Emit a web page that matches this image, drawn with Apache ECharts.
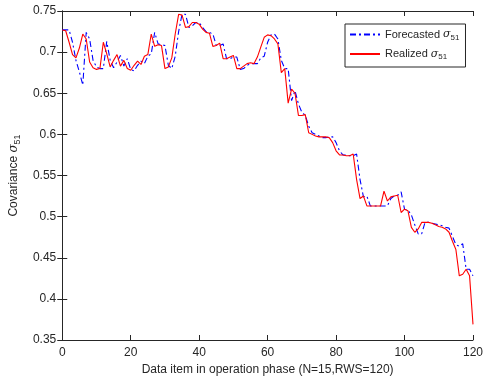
<!DOCTYPE html>
<html><head><meta charset="utf-8">
<script src="https://cdn.jsdelivr.net/npm/echarts@6/dist/echarts.min.js"></script>
<style>html,body{margin:0;padding:0;background:#fff}#c{width:486px;height:388px}</style>
</head><body><div id="c"></div>
<script>
const items = Array.from({length:121},(_,i)=>i);
const realized = [0.727,0.726,0.712,0.697,0.693,0.705,0.722,0.716,0.688,0.681,0.679,0.68,0.712,0.698,0.682,0.69,0.697,0.683,0.69,0.68,
0.678,0.684,0.689,0.685,0.695,0.697,0.722,0.707,0.709,0.708,0.68,0.682,0.693,0.722,0.746,0.745,0.73,0.731,0.736,0.736,
0.734,0.728,0.724,0.723,0.707,0.708,0.711,0.692,0.692,0.694,0.696,0.68,0.68,0.683,0.686,0.687,0.686,0.694,0.706,0.718,
0.721,0.72,0.716,0.71,0.675,0.68,0.638,0.655,0.65,0.623,0.623,0.624,0.602,0.6,0.598,0.597,0.597,0.597,0.596,0.59,
0.58,0.575,0.575,0.574,0.574,0.576,0.545,0.522,0.525,0.513,0.513,0.513,0.513,0.513,0.531,0.519,0.524,0.525,0.526,0.505,
0.509,0.507,0.487,0.481,0.485,0.493,0.493,0.493,0.492,0.49,0.488,0.487,0.485,0.481,0.47,0.46,0.428,0.43,0.436,0.428,0.369];
const forecasted = [0.727,0.727,0.727,0.712,0.69,0.676,0.66,0.724,0.716,0.69,0.682,0.68,0.68,0.713,0.69,0.681,0.688,0.696,0.683,0.692,
0.679,0.677,0.684,0.689,0.686,0.695,0.698,0.724,0.71,0.709,0.708,0.684,0.68,0.695,0.725,0.746,0.746,0.73,0.732,0.736,
0.736,0.73,0.725,0.724,0.722,0.708,0.708,0.71,0.692,0.692,0.694,0.694,0.679,0.68,0.684,0.686,0.686,0.686,0.693,0.695,
0.712,0.721,0.722,0.716,0.69,0.68,0.68,0.641,0.653,0.637,0.627,0.623,0.61,0.602,0.6,0.598,0.596,0.596,0.597,0.597,
0.59,0.58,0.575,0.575,0.574,0.574,0.576,0.545,0.524,0.525,0.513,0.513,0.513,0.513,0.513,0.513,0.522,0.525,0.526,0.53,
0.509,0.508,0.502,0.49,0.479,0.479,0.493,0.493,0.492,0.491,0.49,0.489,0.487,0.486,0.476,0.466,0.464,0.467,0.436,0.436,0.428];
const xTitle = 'Data item in operation phase (N=15,RWS=120)';
const yTitle = 'Covariance ';
const seriesNames = ['Forecasted', 'Realized'];

const axisColor = '#262626';
const font = 'Liberation Sans, Arial, Helvetica, sans-serif';
const chart = echarts.init(document.getElementById('c'), null, {renderer:'canvas'});
const subRich = {
  sig: {fontFamily:'DejaVu Serif, serif', fontStyle:'italic', fontSize:11, color:axisColor},
  sub: {fontFamily:font, fontSize:8, color:axisColor, verticalAlign:'bottom', padding:[6,0,0,0]}
};
chart.setOption({
  animation:false,
  backgroundColor:'#fff',
  grid:{left:61,right:9,top:11,bottom:48,containLabel:false},
  legend:{
    left:345, top:24, orient:'vertical', itemWidth:30, itemHeight:10, itemGap:7,
    padding:[5,6,6,4], borderColor:axisColor, borderWidth:1, backgroundColor:'#fff',
    data:seriesNames.map(n=>({name:n})),
    itemStyle:{opacity:0},
    formatter: n => n + ' {sig|σ}{sub|51}',
    textStyle:{fontFamily:font, fontSize:11, color:axisColor, rich:subRich}
  },
  xAxis:[{
    type:'value', min:0, max:120, interval:20, position:'bottom',
    name:xTitle, nameLocation:'middle', nameGap:20,
    nameTextStyle:{fontFamily:font, fontSize:12, color:axisColor},
    axisLine:{show:true, lineStyle:{color:axisColor, width:1}},
    axisTick:{show:true, inside:true, length:5, lineStyle:{color:axisColor}},
    axisLabel:{fontFamily:font, fontSize:12, color:axisColor, margin:7},
    splitLine:{show:false}
  },{
    type:'value', min:0, max:120, interval:20, position:'top',
    axisLine:{show:true, lineStyle:{color:axisColor, width:1}},
    axisTick:{show:true, inside:true, length:5, lineStyle:{color:axisColor}},
    axisLabel:{show:false}, splitLine:{show:false}
  }],
  yAxis:[{
    type:'value', min:0.35, max:0.75, interval:0.05, position:'left',
    name: yTitle + '{sig|σ}{sub|51}', nameLocation:'middle', nameGap:40, nameRotate:90,
    nameTextStyle:{fontFamily:font, fontSize:12, color:axisColor,
      rich:{sig:{fontFamily:'DejaVu Serif, serif', fontStyle:'italic', fontSize:12, color:axisColor},
            sub:{fontFamily:font, fontSize:9, color:axisColor, verticalAlign:'bottom', padding:[7,0,0,0]}}},
    axisLine:{show:true, lineStyle:{color:axisColor, width:1}},
    axisTick:{show:true, inside:true, length:5, lineStyle:{color:axisColor}},
    axisLabel:{fontFamily:font, fontSize:12, color:axisColor, margin:6,
      formatter: v => String(Math.round(v*100)/100)},
    splitLine:{show:false}
  },{
    type:'value', min:0.35, max:0.75, interval:0.05, position:'right',
    axisLine:{show:true, lineStyle:{color:axisColor, width:1}},
    axisTick:{show:true, inside:true, length:5, lineStyle:{color:axisColor}},
    axisLabel:{show:false}, splitLine:{show:false}
  }],
  series:[{
    name:seriesNames[0], type:'line', xAxisIndex:0, yAxisIndex:0,
    data: items.map((x,i)=>[x, forecasted[i]]),
    showSymbol:false, symbol:'none', color:'#0000ff',
    lineStyle:{color:'#0000ff', width:1.1, type:[6,3,2,3]}, z:2
  },{
    name:seriesNames[1], type:'line', xAxisIndex:0, yAxisIndex:0,
    data: items.map((x,i)=>[x, realized[i]]),
    showSymbol:false, symbol:'none', color:'#ff0000',
    lineStyle:{color:'#ff0000', width:1.1}, z:3
  }]
});
</script></body></html>
